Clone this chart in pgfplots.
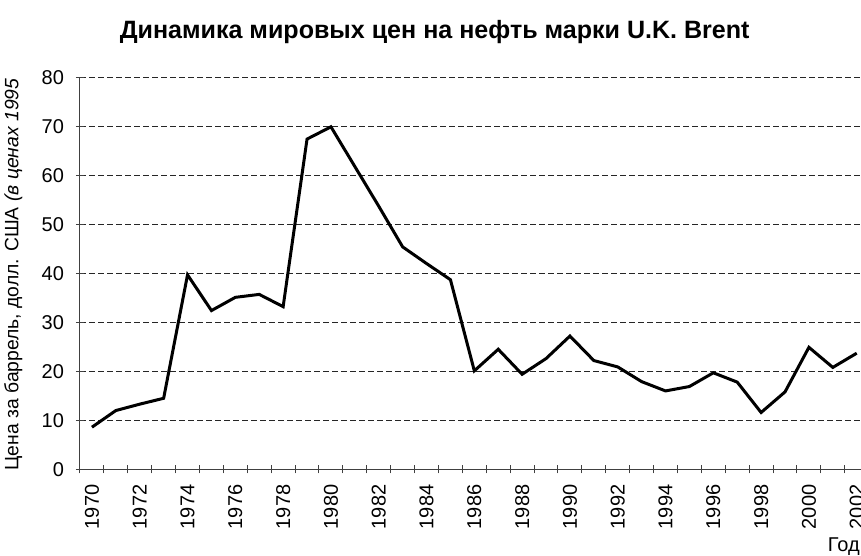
\documentclass[border=0pt]{standalone}
\usepackage{pgfplots}
\pgfplotsset{compat=1.18}
\usepackage{fontspec}
\setmainfont{Liberation Sans}
\pgfplotstableread{
x y
0 8.6
1 12.0
2 13.3
3 14.5
4 39.7
5 32.4
6 35.1
7 35.7
8 33.2
9 67.4
10 69.9
11 61.8
12 53.7
13 45.4
14 42.0
15 38.7
16 20.1
17 24.5
18 19.4
19 22.6
20 27.2
21 22.2
22 20.9
23 17.9
24 16.0
25 16.9
26 19.7
27 17.8
28 11.6
29 15.8
30 24.9
31 20.8
32 23.7
}\brent
\begin{document}
\begin{tikzpicture}
\useasboundingbox (0,0) rectangle (645.75pt,417pt);
\begin{axis}[
  at={(60pt,65pt)}, anchor=south west,
  scale only axis, width=591.5pt, height=294pt,
  xmin=-0.5, xmax=32.5, ymin=0, ymax=80,
  axis x line=bottom, axis y line=left,
  axis line style={-, black!75, line width=0.75pt},
  ytick={0,10,...,80},
  xtick={0,2,...,32},
  xticklabels={1970,1972,1974,1976,1978,1980,1982,1984,1986,1988,1990,1992,1994,1996,1998,2000,2002},
  minor xtick={-0.5,0.5,...,32.5},
  tick align=center,
  major tick length=6pt, minor tick length=6pt,
  major x tick style={draw=none},
  every tick/.style={black!75, line width=0.75pt},
  ymajorgrids,
  major grid style={black!85, line width=0.75pt, dash pattern=on 4.5pt off 2.25pt},
  tick label style={font=\fontsize{15}{17}\selectfont},
  yticklabel style={/pgf/number format/assume math mode=true, anchor=east, xshift=-5.5pt},
  xticklabel style={rotate=90, anchor=east, xshift=-5pt},
  clip=false,
]
\addplot[black, line width=2.25pt, line join=miter] table[x=x,y=y]{\brent};
\end{axis}
\node[anchor=base, font=\bfseries\fontsize{18.8}{22}\selectfont] at (326pt,388pt) {Динамика мировых цен на нефть марки U.K. Brent};
\node[rotate=90, anchor=west, inner sep=0pt, font=\fontsize{14.5}{17}\selectfont] at (10pt,64pt) {Цена за баррель, долл. США \textit{(в ценах 1995}};
\node[anchor=base east, inner sep=0pt, font=\fontsize{15}{17}\selectfont] at (645pt,3pt) {Год};
\end{tikzpicture}
\end{document}
